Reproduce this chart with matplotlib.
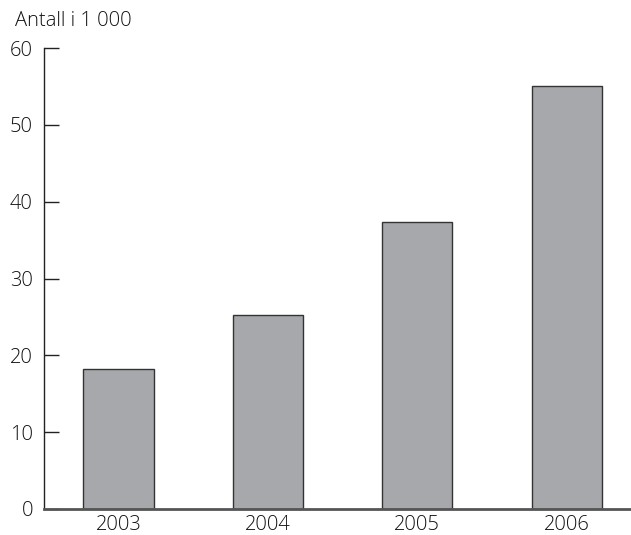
import matplotlib.pyplot as plt

# data
years = ['2003', '2004', '2005', '2006']
antall = [18.2, 25.3, 37.3, 55.1]
yticks = [0, 10, 20, 30, 40, 50, 60]

plt.rcParams['font.family'] = ['Open Sans', 'DejaVu Sans']
plt.rcParams['font.weight'] = 'light'
fs = 14.5
txt = '#111111'

fig = plt.figure(figsize=(6.31, 5.35), dpi=100)
ax = fig.add_axes([44 / 631, 1 - 509 / 535, 1 - 44 / 631, (509 - 48) / 535])

x = range(len(years))
ax.bar(x, antall, width=0.47, color='#a7a8ac', edgecolor='#333333', linewidth=1.0, zorder=2)

ax.set_ylim(0, 60)
ax.set_xlim(-0.498, 3.43)
ax.set_yticks(yticks)
ax.set_xticks(list(x))
ax.set_xticklabels(years)

for s in ['top', 'right']:
    ax.spines[s].set_visible(False)
ax.spines['left'].set_color('#222222')
ax.spines['left'].set_linewidth(1.0)
ax.spines['bottom'].set_color('#555555')
ax.spines['bottom'].set_linewidth(2.0)

ax.tick_params(axis='y', direction='in', length=11, width=1.0, color='#222222',
               labelsize=fs, labelcolor=txt, pad=8)
ax.tick_params(axis='x', length=0, labelsize=fs, labelcolor=txt, pad=4)

fig.text(15 / 631, 1 - 21 / 535, 'Antall i 1 000', fontsize=fs, color=txt,
         ha='left', va='center')

fig.savefig('out.png', dpi=100)
